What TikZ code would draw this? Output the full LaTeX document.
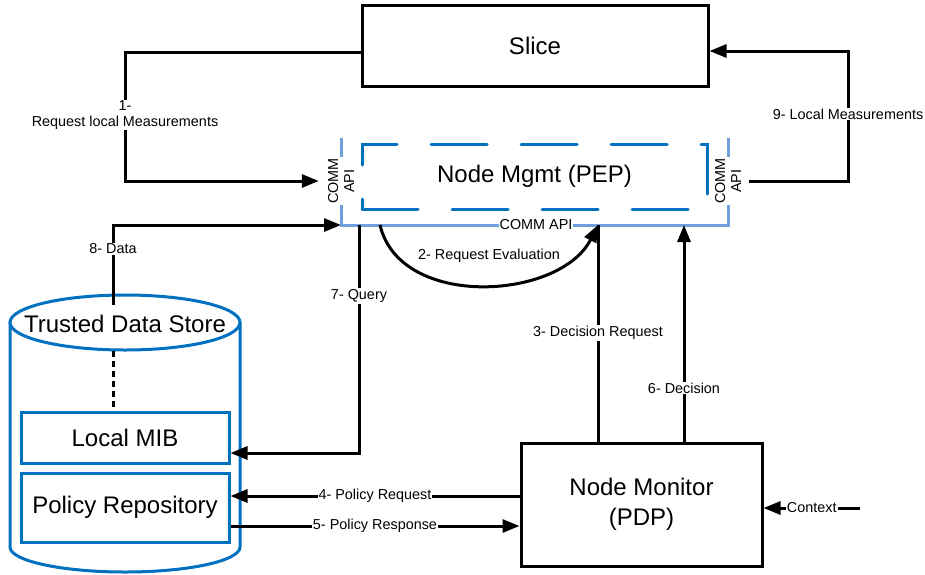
\documentclass[tikz,border=0pt]{standalone}
\usepackage{fontspec}
\setmainfont{Liberation Sans}
\usetikzlibrary{arrows.meta}
\definecolor{storeblue}{RGB}{0,112,192}
\definecolor{apiblue}{RGB}{112,160,220}
\begin{document}
\begin{tikzpicture}[x=1pt, y=-1pt,
                    bigtext/.style={font=\fontsize{24}{30}\selectfont},
                    smalltext/.style={font=\fontsize{14.4}{16}\selectfont},
                    blackbox/.style={draw=black, line width=3pt, bigtext, align=center},
                    bluebox/.style={draw=storeblue, line width=3pt, bigtext},
                    storeline/.style={draw=storeblue, line width=3pt},
                    pepbox/.style={draw=storeblue, line width=3pt, line cap=round, dash pattern=on 56pt off 34pt, bigtext},
                    apiline/.style={draw=apiblue, line width=3pt},
                    apilabel/.style={smalltext, fill=white, inner sep=1pt, align=center},
                    lbl/.style={smalltext, fill=white, inner sep=1pt, align=center},
                    conn/.style={draw=black, line width=3pt},
                    arr/.style={conn, -{Triangle[length=17pt, width=13pt]}},
                    dotline/.style={draw=black, line width=3pt, dash pattern=on 6pt off 4pt}]
                    \useasboundingbox (0,0) rectangle (925,574);
                    \node[blackbox, minimum width=346, minimum height=81] (slice) at (535,45.5) {Slice};
                    \coordinate (fTL) at (341,138);
                    \coordinate (fBL) at (341,225);
                    \coordinate (fBR) at (728,225);
                    \coordinate (fTR) at (728,138);
                    \draw[apiline] (fTL) -- (fBL) -- (fBR) -- (fTR);
                    \node[apilabel, rotate=90] (apiL) at (341,181) {COMM\\API};
                    \node[apilabel, rotate=90] (apiR) at (728,181) {COMM\\API};
                    \node[apilabel] (apiB) at (536,225) {COMM API};
                    \node[pepbox, minimum width=345, minimum height=65] (pep) at (534.5,176.5) {Node Mgmt (PEP)};
                    \draw[storeline] (10,322.5) -- (10,547) arc[start angle=180, end angle=0, x radius=115, y radius=25] -- (240,322.5);
                    \draw[storeline, fill=white] (125,322.5) ellipse [x radius=115, y radius=27.5];
                    \node[bigtext] (tds) at (125,324) {Trusted Data Store};
                    \node[bluebox, minimum width=208, minimum height=51] (mib) at (125,437.5) {Local MIB};
                    \node[bluebox, minimum width=208, minimum height=69] (pol) at (125,507.5) {Policy Repository};
                    \node[blackbox, minimum width=241, minimum height=123] (pdp) at (641.5,504.5) {Node Monitor\\(PDP)};
                    \coordinate (r1) at (125,52);
                    \coordinate (r9) at (848,51);
                    \coordinate (d8) at (113,305);
                    \coordinate (tb) at (113,351);
                    \coordinate (q7) at (359,225);
                    \coordinate (ev) at (380,225);
                    \coordinate (c3) at (598,225);
                    \coordinate (c6) at (684,225);
                    \coordinate (p4) at (0,496);
                    \coordinate (p5) at (0,526);
                    \coordinate (cx) at (860,508);
                    \draw[arr, shorten >=8pt] (slice.west |- r1) -- (r1) -- (r1 |- apiL) -- (apiL.north);
                    \draw[arr, shorten <=7pt] (apiR.south) -- (r9 |- apiR) -- (r9) -- (slice.east |- r9);
                    \draw[arr] (d8) -- (d8 |- fBL) -- (fBL);
                    \draw[dotline] (tb) -- (tb |- mib.north);
                    \draw[arr] (q7) -- (q7 |- 0,453) -- (mib.east |- 0,453);
                    \draw[arr] (ev) .. controls (400,310) and (560,300) .. (c3);
                    \draw[conn] (pdp.north -| c3) -- (c3);
                    \draw[arr] (pdp.north -| c6) -- (c6);
                    \draw[arr] (pdp.west |- p4) -- node[lbl] {4- Policy Request} (pol.east |- p4);
                    \draw[arr] (pol.east |- p5) -- node[lbl] {5- Policy Response} (pdp.west |- p5);
                    \draw[arr] (cx) -- node[lbl] {Context} (pdp.east |- cx);
                    \node[lbl] at (125,115) {1-\\Request local Measurements};
                    \node[lbl] at (848,114) {9- Local Measurements};
                    \node[lbl] at (113,249) {8- Data};
                    \node[lbl] at (359,296) {7- Query};
                    \node[lbl] at (489,256) {2- Request Evaluation};
                    \node[lbl] at (598,333) {3- Decision Request};
                    \node[lbl] at (684,388) {6- Decision};
\end{tikzpicture}
\end{document}
